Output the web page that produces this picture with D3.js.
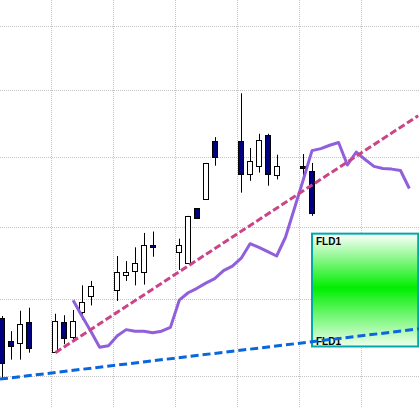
<!DOCTYPE html>
<html>
<head>
<meta charset="utf-8">
<script src="https://cdn.jsdelivr.net/npm/d3@7"></script>
<style>
  html, body { margin: 0; padding: 0; background: #ffffff; }
  svg { display: block; }
</style>
</head>
<body>
<div id="chart"></div>
<script>
// ---- data ----
// trading-day slot index (weekends leave gaps)
const candleDay   = [0, 1, 2, 3, 6, 7, 8, 9, 10, 13, 14, 15, 16, 17, 20, 21, 22, 23, 24, 27, 28, 29, 30, 31, 34, 35];
const candleOpen  = [20.75, 20.45, 20.43, 20.70, 20.31, 20.70, 20.50, 20.83, 21.04, 21.13, 21.33, 21.39, 21.37, 21.74, 21.65, 21.50, 22.26, 22.39, 23.23, 23.24, 22.75, 22.86, 23.32, 22.74, 22.87, 22.79];
const candleHigh  = [20.78, 20.58, 20.85, 20.89, 20.81, 20.79, 20.86, 21.19, 21.25, 21.59, 21.52, 21.71, 21.91, 21.93, 21.83, 22.15, 22.26, 22.91, 23.29, 23.95, 23.13, 23.34, 23.34, 23.03, 23.04, 22.91];
const candleLow   = [19.97, 20.21, 20.21, 20.30, 20.30, 20.41, 20.46, 20.73, 20.92, 20.98, 21.25, 21.19, 21.20, 21.58, 21.40, 21.50, 22.11, 22.39, 22.87, 22.48, 22.65, 22.77, 22.58, 22.67, 22.71, 22.15];
const candleClose = [20.16, 20.39, 20.68, 20.36, 20.72, 20.49, 20.71, 20.97, 21.18, 21.37, 21.37, 21.49, 21.74, 21.71, 21.74, 22.15, 22.12, 22.91, 22.99, 22.75, 22.94, 23.25, 22.75, 22.86, 22.83, 22.19];

// FLD line (displaced, extends into the future)
const fldDay   = [8, 9, 10, 11, 12, 13, 14, 15, 16, 17, 18, 19, 20, 21, 22, 23, 24, 25, 26, 27, 28, 29, 30, 31, 32, 33, 34, 35, 36, 37, 38, 39, 40, 41, 42, 43, 44, 45, 46];
const fldValue = [20.99, 20.78, 20.58, 20.37, 20.39, 20.52, 20.60, 20.58, 20.58, 20.56, 20.58, 20.63, 20.99, 21.09, 21.15, 21.22, 21.28, 21.39, 21.45, 21.56, 21.76, 21.71, 21.65, 21.59, 21.85, 22.25, 22.66, 23.09, 23.12, 23.17, 23.21, 22.88, 23.07, 22.96, 22.86, 22.83, 22.82, 22.80, 22.54];

// trend lines: [day, price] endpoints
const upTrendDay   = [6, 47];
const upTrendPrice = [20.30, 23.61];
const baseTrendDay   = [-0.26, 47.09];
const baseTrendPrice = [19.96, 20.61];

// FLD target zone
const zoneDay   = [35, 47];
const zonePrice = [20.38, 21.90];
const zoneLabel = ["FLD1", "FLD1"];

// grid ticks
const priceTicks = [20, 21, 22, 23, 24, 25];
const dayTicks   = [5.5, 12.5, 19.5, 26.5, 33.5, 40.5];

// ---- chart ----
const W = 419, H = 408;
const svg = d3.select("#chart").append("svg").attr("width", W).attr("height", H);

const x = d3.scaleLinear().domain([-0.26, 47.09]).range([0, W]);
const y = d3.scaleLog().domain([19.596, 25.418]).range([H, 0]);

// grid
const grid = svg.append("g").attr("stroke", "#c4c4c4").attr("stroke-width", 1).attr("stroke-dasharray", "1,1");
grid.selectAll("line.h").data(priceTicks).join("line")
  .attr("x1", 0).attr("x2", W)
  .attr("y1", d => Math.round(y(d)) + 0.5).attr("y2", d => Math.round(y(d)) + 0.5);
grid.selectAll("line.v").data(dayTicks).join("line")
  .attr("y1", 0).attr("y2", H)
  .attr("x1", d => Math.round(x(d)) + 0.5).attr("x2", d => Math.round(x(d)) + 0.5);

// zone box with gradient
const defs = svg.append("defs");
const grad = defs.append("linearGradient").attr("id", "zoneGrad").attr("x1", 0).attr("y1", 0).attr("x2", 0).attr("y2", 1);
grad.append("stop").attr("offset", "0%").attr("stop-color", "#ffffff");
grad.append("stop").attr("offset", "48%").attr("stop-color", "#00ee00");
grad.append("stop").attr("offset", "100%").attr("stop-color", "#f0fff0");

const zx0 = x(zoneDay[0]), zx1 = x(zoneDay[1]);
const zy0 = y(zonePrice[1]), zy1 = y(zonePrice[0]);
svg.append("rect")
  .attr("x", zx0).attr("y", zy0)
  .attr("width", zx1 - zx0).attr("height", zy1 - zy0)
  .attr("fill", "url(#zoneGrad)")
  .attr("stroke", "#00a8a8").attr("stroke-width", 2);
svg.append("text").attr("x", zx0 + 4).attr("y", zy0 + 11)
  .attr("font-family", "Liberation Sans, Arial, sans-serif").attr("font-size", 10).attr("font-weight", "bold")
  .attr("fill", "#000").text(zoneLabel[0]);
svg.append("text").attr("x", zx0 + 4).attr("y", zy1 - 1.5)
  .attr("font-family", "Liberation Sans, Arial, sans-serif").attr("font-size", 10).attr("font-weight", "bold")
  .attr("fill", "#000").text(zoneLabel[1]);

// candles
const candles = candleDay.map((d, i) => ({ d, o: candleOpen[i], h: candleHigh[i], l: candleLow[i], c: candleClose[i] }));
const cg = svg.append("g");
cg.selectAll("line").data(candles).join("line")
  .attr("x1", d => Math.round(x(d.d)) + 0.5).attr("x2", d => Math.round(x(d.d)) + 0.5)
  .attr("y1", d => y(d.h)).attr("y2", d => y(d.l))
  .attr("stroke", "#000").attr("stroke-width", 1);
cg.selectAll("rect").data(candles).join("rect")
  .attr("x", d => Math.round(x(d.d)) - 2.5)
  .attr("width", 5)
  .attr("y", d => Math.round(y(Math.max(d.o, d.c))) + 0.5)
  .attr("height", d => Math.max(1, Math.round(y(Math.min(d.o, d.c))) - Math.round(y(Math.max(d.o, d.c)))))
  .attr("fill", d => d.c >= d.o ? "#ffffff" : "#000080")
  .attr("stroke", "#000").attr("stroke-width", 1);

// FLD line
const fld = fldDay.map((d, i) => [d, fldValue[i]]);
svg.append("path")
  .attr("d", d3.line().x(d => x(d[0])).y(d => y(d[1]))(fld))
  .attr("fill", "none").attr("stroke", "#9060dc").attr("stroke-width", 3).attr("stroke-linejoin", "round");

// trend lines
svg.append("line")
  .attr("x1", x(upTrendDay[0])).attr("y1", y(upTrendPrice[0]))
  .attr("x2", x(upTrendDay[1])).attr("y2", y(upTrendPrice[1]))
  .attr("stroke", "#cc4488").attr("stroke-width", 3).attr("stroke-dasharray", "7,3");
svg.append("line")
  .attr("x1", x(baseTrendDay[0])).attr("y1", y(baseTrendPrice[0]))
  .attr("x2", x(baseTrendDay[1])).attr("y2", y(baseTrendPrice[1]))
  .attr("stroke", "#0a66dd").attr("stroke-width", 3).attr("stroke-dasharray", "8,4");
</script>
</body>
</html>
